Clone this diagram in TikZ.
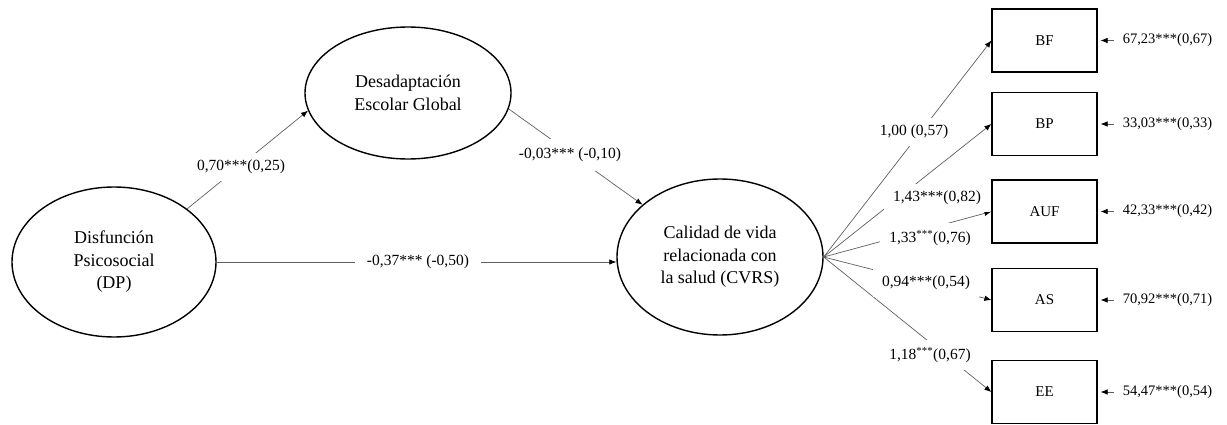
\documentclass[tikz,border=0pt]{standalone}
\usepackage{fontspec}
\setmainfont{Liberation Serif}
\usepackage{tikz}
\definecolor{linegray}{RGB}{95,95,95}
\usetikzlibrary{arrows.meta}
\usetikzlibrary{shapes}
\usetikzlibrary{positioning}

\begin{document}
\begin{tikzpicture}[x=1pt, y=-1pt]
        \tikzset{latent/.style={ellipse, draw=black, line width=1.4pt, inner sep=0pt, align=center,
                        font=\fontsize{18}{22.5}\selectfont},
                obs/.style={rectangle, draw=black, line width=1.2pt, minimum width=105pt,
                        minimum height=63pt, font=\fontsize{15}{18}\selectfont},
                coef/.style={fill=white, inner xsep=9pt, inner ysep=7pt, font=\fontsize{15.5}{18}\selectfont},
                err/.style={inner xsep=9pt, font=\fontsize{14.5}{17}\selectfont},
                >={Latex[black, length=7pt, width=5.5pt]},
                every edge/.style={draw=linegray, line width=0.7pt}}

        \useasboundingbox (0, 0) rectangle (1227, 425);

        \node[latent, minimum width=204pt, minimum height=150pt] (dp) at (114, 262) {Disfunción\\Psicosocial\\(DP)};
        \node[latent, minimum width=206pt, minimum height=132pt] (desa) at (408, 93) {Desadaptación\\Escolar Global};
        \node[latent, minimum width=206pt, minimum height=156pt] (cvrs) at (720, 257) {Calidad de vida\\relacionada con\\la salud (CVRS)};

        \node[obs] (bf) at (1044.5, 40.5) {BF};
        \node[obs] (bp) at (1044.5, 124) {BP};
        \node[obs] (auf) at (1044.5, 211.5) {AUF};
        \node[obs] (as) at (1044.5, 300) {AS};
        \node[obs] (ee) at (1044.5, 392) {EE};

        \path [->] (dp.36) edge node {} (desa.190);
        \path [->] (desa.-9) edge node {} (cvrs.146);
        \path [->] (dp.east) edge node {} (dp.east -| cvrs.west);
        \foreach \obsname in {bf, bp, auf, as, ee}
                \path [->] (cvrs.east) edge node {} (\obsname.west);

        \node[coef] (c1) at (241, 167) {0,70***(0,25)};
        \node[coef, inner ysep=9pt] (c2) at (570, 155) {-0,03*** (-0,10)};
        \node[coef, inner xsep=12pt] (c3) at (418, 262) {-0,37*** (-0,50)};
        \node[coef] (c4) at (914, 132) {1,00 (0,57)};
        \node[coef] (c5) at (937, 198) {1,43***(0,82)};
        \node[coef] (c6) at (930, 238) {1,33\textsuperscript{***}(0,76)};
        \node[coef] (c7) at (926, 283) {0,94***(0,54)};
        \node[coef] (c8) at (930, 355) {1,18\textsuperscript{***}(0,67)};

        \node[err, right=16pt of bf] (ebf) {67,23***(0,67)};
        \node[err, right=16pt of bp] (ebp) {33,03***(0,33)};
        \node[err, right=16pt of auf] (eauf) {42,33***(0,42)};
        \node[err, right=16pt of as] (eas) {70,92***(0,71)};
        \node[err, right=16pt of ee] (eee) {54,47***(0,54)};

        \path [->, shorten >=3pt] (ebf) edge node {} (bf);
        \path [->, shorten >=3pt] (ebp) edge node {} (bp);
        \path [->, shorten >=3pt] (eauf) edge node {} (auf);
        \path [->, shorten >=3pt] (eas) edge node {} (as);
        \path [->, shorten >=3pt] (eee) edge node {} (ee);

\end{tikzpicture}
\end{document}
